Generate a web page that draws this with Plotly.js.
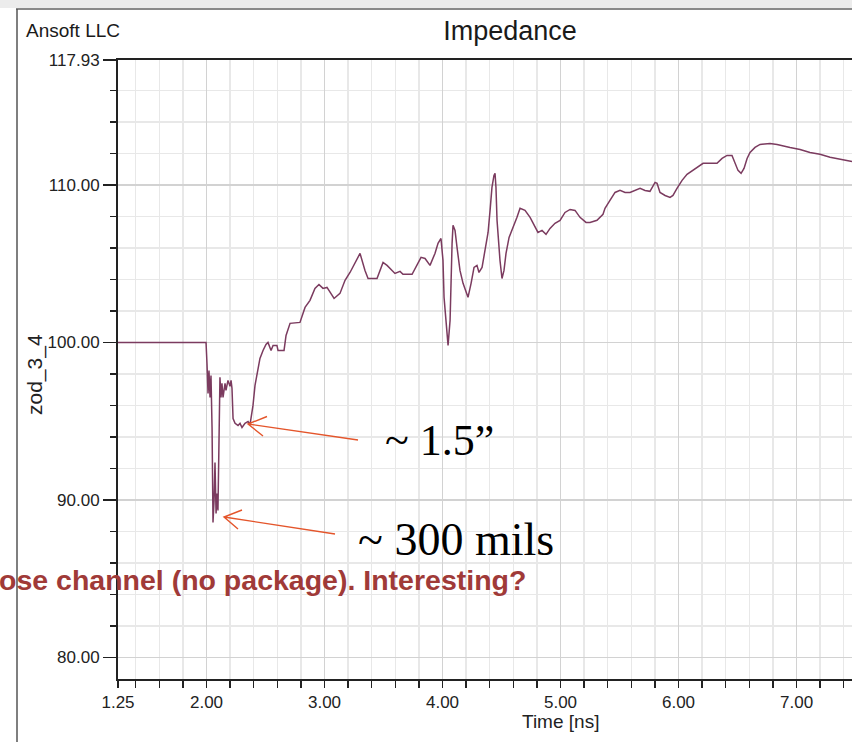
<!DOCTYPE html>
<html>
<head>
<meta charset="utf-8">
<script src="https://cdn.plot.ly/plotly-3.0.1.min.js"></script>
<style>
html,body{margin:0;padding:0;background:#fff;}
#chart{width:852px;height:742px;}
</style>
</head>
<body>
<div id="chart"></div>
<script>
// Time [ns]
const timeNs = [1.25,1.996,2.004,2.013,2.021,2.030,2.038,2.047,2.055,2.064,2.072,2.081,2.089,2.097,2.106,2.114,2.123,2.131,2.140,2.157,2.165,2.182,2.199,2.208,2.216,2.225,2.242,2.267,2.284,2.301,2.326,2.352,2.369,2.394,2.411,2.436,2.453,2.479,2.504,2.521,2.547,2.564,2.597,2.606,2.657,2.674,2.708,2.792,2.835,2.877,2.919,2.953,2.987,3.021,3.081,3.131,3.174,3.216,3.258,3.301,3.343,3.369,3.445,3.496,3.530,3.597,3.640,3.665,3.742,3.792,3.818,3.852,3.894,3.936,3.962,3.987,4.004,4.013,4.038,4.047,4.064,4.072,4.081,4.089,4.106,4.123,4.148,4.174,4.216,4.242,4.267,4.292,4.309,4.335,4.360,4.386,4.403,4.419,4.436,4.445,4.453,4.462,4.487,4.504,4.521,4.538,4.564,4.597,4.631,4.657,4.699,4.742,4.784,4.809,4.843,4.877,4.911,4.953,4.996,5.038,5.081,5.123,5.165,5.216,5.250,5.309,5.360,5.377,5.419,5.462,5.504,5.547,5.589,5.631,5.674,5.716,5.758,5.801,5.818,5.843,5.886,5.928,5.953,5.987,6.030,6.072,6.123,6.165,6.208,6.267,6.326,6.369,6.411,6.453,6.479,6.504,6.530,6.555,6.581,6.606,6.648,6.691,6.775,6.835,6.945,7.030,7.114,7.199,7.284,7.369,7.470];
// zod_3_4 impedance
const zod34 = [100,100,98.67,96.76,98.22,96.51,97.9,94.6,88.57,89.97,92.38,89.14,90.41,89.33,93.78,97.78,96.51,97.40,96.51,97.40,96.95,97.59,97.21,97.59,97.08,95.17,94.86,94.73,94.86,94.60,94.86,94.98,94.79,96.0,97.27,98.22,98.98,99.49,99.87,100.0,99.49,99.81,99.81,99.49,99.49,100.44,101.21,101.27,102.22,102.67,103.43,103.68,103.43,103.49,102.79,103.11,103.94,104.44,105.02,105.65,104.57,104.06,104.06,105.08,104.89,104.38,104.51,104.32,104.32,105.02,105.40,105.33,104.89,105.65,106.29,106.60,105.21,102.86,100.57,99.81,101.40,104.13,106.29,107.43,107.11,106.03,104.57,103.75,102.86,103.75,104.76,104.89,104.44,104.76,105.84,106.98,108.38,109.84,110.60,110.73,109.84,107.75,105.21,104.06,104.57,105.65,106.67,107.24,107.94,108.51,108.38,107.94,107.30,106.98,107.11,106.86,107.24,107.56,107.75,108.25,108.44,108.38,107.94,107.62,107.62,107.75,108.13,108.51,109.02,109.52,109.65,109.52,109.52,109.65,109.78,109.65,109.59,110.16,110.10,109.52,109.33,109.21,109.33,109.78,110.29,110.67,110.92,111.11,111.37,111.37,111.37,111.68,111.87,111.87,111.43,110.92,110.73,111.05,111.68,112.06,112.38,112.57,112.63,112.57,112.38,112.25,112.06,111.94,111.75,111.62,111.49];

const xTickVals = [1.25,2,3,4,5,6,7];
const xTickText = ['1.25','2.00','3.00','4.00','5.00','6.00','7.00'];
const yTickVals = [80,90,100,110,117.93];
const yTickText = ['80.00','90.00','100.00','110.00','117.93'];

const chartTitle = 'Impedance';
const vendorLabel = 'Ansoft LLC';
const xTitle = 'Time [ns]';
const yTitle = 'zod_3_4';
const note1 = '~ 1.5\u201d';
const note2 = '~ 300 mils';
const redNote = 'ose channel (no package). Interesting?';

// pixel helpers for the page geometry (plot area 118..852 x 60..679)
const L = 118, T = 60, W = 734, H = 619;
const px = v => (v - L) / W;
const py = v => (T + H - v) / H;

const narrow = '"Liberation Sans Narrow", "Arial Narrow", "Liberation Sans", Arial, sans-serif';
const arrowColor = '#e4552b';

function arrowPath(tail, tip, w1, w2) {
  return 'M' + px(tail[0]) + ',' + py(tail[1]) + ' L' + px(tip[0]) + ',' + py(tip[1]) +
         ' M' + px(w1[0]) + ',' + py(w1[1]) + ' L' + px(tip[0]) + ',' + py(tip[1]) +
         ' L' + px(w2[0]) + ',' + py(w2[1]);
}

const trace = {
  x: timeNs, y: zod34, type: 'scatter', mode: 'lines',
  line: {color: '#7b3b5f', width: 1.5}, hoverinfo: 'skip'
};

const layout = {
  width: 852, height: 742,
  margin: {l: L, r: 0, t: T, b: 742 - T - H, pad: 0},
  paper_bgcolor: '#ffffff', plot_bgcolor: '#ffffff',
  showlegend: false,
  title: {text: chartTitle, xref: 'container', yref: 'container', x: 510/852, xanchor: 'center', y: 1 - 31/742, yanchor: 'middle',
          font: {family: narrow, size: 27, color: '#1a1a1a'}},
  xaxis: {
    range: [1.25, 7.47], tickmode: 'array', tickvals: xTickVals, ticktext: xTickText,
    showgrid: true, gridcolor: '#d2d2d2', gridwidth: 1.5,
    ticks: 'outside', ticklen: 7, tickwidth: 1.3, tickcolor: '#222',
    showline: true, linecolor: '#222', linewidth: 2, mirror: true,
    zeroline: false,
    tickfont: {family: narrow, size: 17, color: '#222'},
    minor: {tick0: 0, dtick: 0.2, showgrid: true, gridcolor: '#e8e8e8', gridwidth: 1.3, ticks: 'outside', ticklen: 7, tickwidth: 1.3, tickcolor: '#222'}
  },
  yaxis: {
    range: [78.63, 117.93], tickmode: 'array', tickvals: yTickVals, ticktext: yTickText,
    showgrid: true, gridcolor: '#d2d2d2', gridwidth: 1.5,
    ticks: 'outside', ticklen: 13, tickwidth: 1.3, tickcolor: '#222',
    showline: true, linecolor: '#222', linewidth: 2,
    zeroline: false,
    tickfont: {family: narrow, size: 17, color: '#222'},
    minor: {tick0: 0, dtick: 2, showgrid: true, gridcolor: '#e8e8e8', gridwidth: 1.3, ticks: 'outside', ticklen: 6, tickwidth: 1.3, tickcolor: '#222'}
  },
  shapes: [
    {type: 'rect', xref: 'paper', yref: 'paper', x0: px(0), x1: px(852), y0: py(8), y1: py(0), fillcolor: '#ececec', line: {width: 0}, layer: 'above'},
    {type: 'line', xref: 'paper', yref: 'paper', x0: px(16), x1: px(852), y0: py(9), y1: py(9), line: {color: '#8a8a8a', width: 2}},
    {type: 'line', xref: 'paper', yref: 'paper', x0: px(17), x1: px(17), y0: py(9), y1: py(742), line: {color: '#555555', width: 1.5}},
    {type: 'path', xref: 'paper', yref: 'paper', path: arrowPath([358, 440], [248, 424], [267, 416.5], [263, 436]), line: {color: arrowColor, width: 1.4}},
    {type: 'path', xref: 'paper', yref: 'paper', path: arrowPath([335, 534], [224, 517], [242, 510], [238, 529]), line: {color: arrowColor, width: 1.4}}
  ],
  annotations: [
    {text: vendorLabel, xref: 'paper', yref: 'paper', x: px(24), y: py(30), xanchor: 'left', yanchor: 'middle', showarrow: false,
     font: {family: narrow, size: 19, color: '#1a1a1a'}},
    {text: xTitle, xref: 'x', yref: 'paper', x: 5.0, y: py(721), xanchor: 'center', yanchor: 'middle', showarrow: false,
     font: {family: narrow, size: 19, color: '#222'}},
    {text: yTitle, xref: 'paper', yref: 'paper', x: px(35), y: py(375), xanchor: 'center', yanchor: 'middle', textangle: -90, showarrow: false,
     font: {family: 'Liberation Sans, Arial, sans-serif', size: 21, color: '#222'}},
    {text: note1, xref: 'paper', yref: 'paper', x: px(383), y: py(440), xanchor: 'left', yanchor: 'middle', showarrow: false,
     font: {family: '"Liberation Serif", "Times New Roman", serif', size: 44, color: '#000'}},
    {text: note2, xref: 'paper', yref: 'paper', x: px(356), y: py(539), xanchor: 'left', yanchor: 'middle', showarrow: false,
     font: {family: '"Liberation Serif", "Times New Roman", serif', size: 46, color: '#000'}},
    {text: '<b>' + redNote + '</b>', xref: 'paper', yref: 'paper', x: px(528), y: py(580), xanchor: 'right', yanchor: 'middle', showarrow: false,
     font: {family: '"Liberation Sans", Arial, sans-serif', size: 28.5, color: '#a03a38'}}
  ]
};

Plotly.newPlot('chart', [trace], layout, {staticPlot: true, displayModeBar: false});
</script>
</body>
</html>
